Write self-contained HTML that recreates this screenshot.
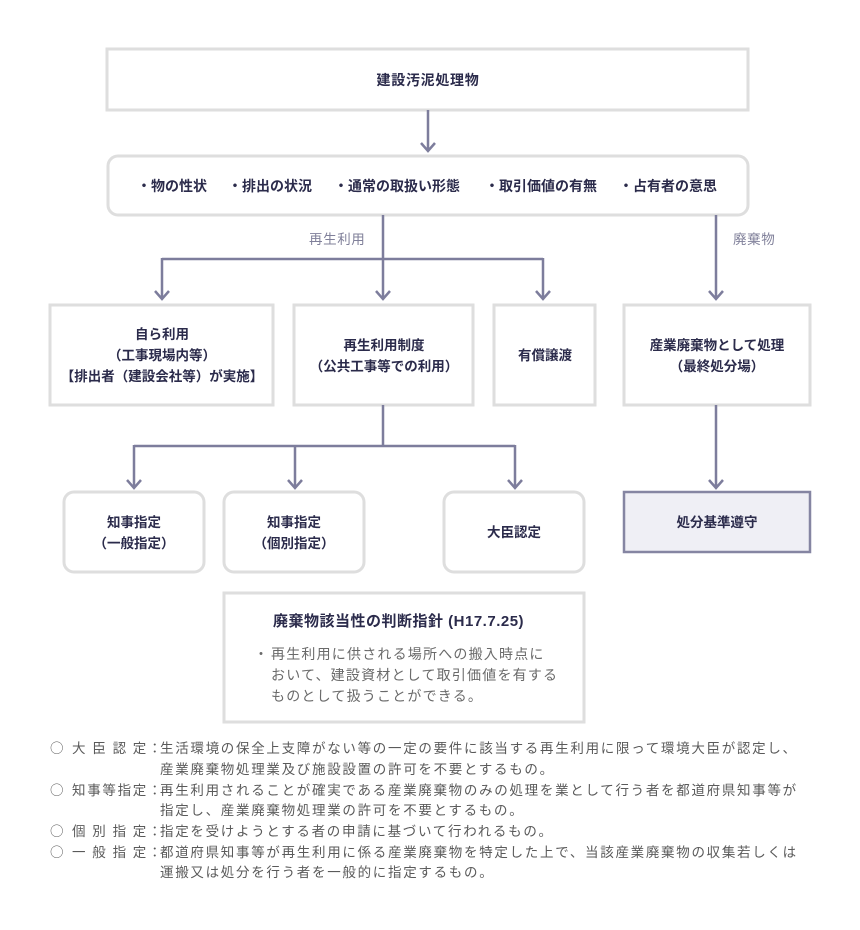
<!DOCTYPE html>
<html><head><meta charset="utf-8"><style>
html,body{margin:0;padding:0;background:#fff;}
svg{display:block;}
.b{font-family:"Liberation Sans","Noto Sans CJK JP",sans-serif;font-weight:bold;fill:#2b2b4b;font-size:14px;}
.lbl{font-family:"Liberation Sans","Noto Sans CJK JP",sans-serif;fill:#80809a;font-size:13.5px;letter-spacing:0.6px;}
.n{font-family:"Liberation Sans","Noto Sans CJK JP",sans-serif;fill:#5a5a5a;font-size:13.5px;letter-spacing:1.7px;}
.c{font-family:"Noto Sans CJK JP",sans-serif;fill:#5a5a5a;font-size:13.5px;}
.j{font-family:"Liberation Sans","Noto Sans CJK JP",sans-serif;fill:#6a6a6a;font-size:14px;letter-spacing:1.2px;}
</style></head><body>
<svg width="860" height="930" viewBox="0 0 860 930" xmlns="http://www.w3.org/2000/svg">
<g fill="#fff" stroke="#dedede" stroke-width="3">
<rect x="107" y="49" width="641" height="61"/>
<rect x="108" y="156" width="640" height="59" rx="10"/>
<rect x="50" y="305" width="223" height="100"/>
<rect x="294" y="305" width="179" height="100"/>
<rect x="494" y="305" width="101" height="100"/>
<rect x="624" y="305" width="186" height="100"/>
<rect x="64" y="492" width="140" height="80" rx="10"/>
<rect x="224" y="492" width="140" height="80" rx="10"/>
<rect x="444" y="492" width="140" height="80" rx="10"/>
<rect x="224" y="593" width="360" height="129"/>
</g>
<rect x="624" y="492" width="186" height="60" fill="#efeff5" stroke="#8585a2" stroke-width="2.5"/>
<g fill="none" stroke="#7d7d9c" stroke-width="2.5">
<path d="M428 110V151M421 143L428 151L435 143"/>
<path d="M383 215V299M162 259H543M162 258V299M543 258V299"/>
<path d="M155 291L162 299L169 291M376 291L383 299L390 291M536 291L543 299L550 291"/>
<path d="M716 215V299M709 291L716 299L723 291"/>
<path d="M383 405V446M134 446H515M134 445V488M295 446V488M515 445V488"/>
<path d="M127 480L134 488L141 480M288 480L295 488L302 480M508 480L515 488L522 480"/>
<path d="M716 405V488M709 480L716 488L723 480"/>
</g>
<text class="b" x="428" y="85" text-anchor="middle" style="letter-spacing:0.7px">建設汚泥処理物</text>
<text class="b" x="137" y="191">・物の性状</text>
<text class="b" x="228" y="191">・排出の状況</text>
<text class="b" x="334" y="191">・通常の取扱い形態</text>
<text class="b" x="485" y="191">・取引価値の有無</text>
<text class="b" x="619" y="191">・占有者の意思</text>
<text class="lbl" x="309" y="244">再生利用</text>
<text class="lbl" x="733" y="244">廃棄物</text>
<g class="b" text-anchor="middle" style="font-size:13.5px">
<text x="162" y="339">自ら利用</text>
<text x="162" y="360">（工事現場内等）</text>
<text x="162" y="381">【排出者（建設会社等）が実施】</text>
<text x="384" y="350">再生利用制度</text>
<text x="384" y="371">（公共工事等での利用）</text>
<text x="545" y="360">有償譲渡</text>
<text x="717" y="350">産業廃棄物として処理</text>
<text x="717" y="371">（最終処分場）</text>
<text x="134" y="527">知事指定</text>
<text x="134" y="548">（一般指定）</text>
<text x="294" y="527">知事指定</text>
<text x="294" y="548">（個別指定）</text>
<text x="514" y="537">大臣認定</text>
<text x="717" y="527">処分基準遵守</text>
</g>
<text class="b" x="273" y="626" style="font-size:15px;letter-spacing:0.5px">廃棄物該当性の判断指針 (H17.7.25)</text>
<text class="j" x="254" y="659">・</text>
<text class="j" x="271" y="659">再生利用に供される場所への搬入時点に</text>
<text class="j" x="271" y="680">おいて、建設資材として取引価値を有する</text>
<text class="j" x="271" y="701">ものとして扱うことができる。</text>
<g>
<text class="c" x="50" y="753">○</text>
<text class="c" x="50" y="795">○</text>
<text class="c" x="50" y="836">○</text>
<text class="c" x="50" y="857">○</text>
</g>
<g class="n">
<text x="72 92.3 112.6 132.8" y="753">大臣認定</text>
<text x="148" y="753">：</text>
<text x="160" y="753">生活環境の保全上支障がない等の一定の要件に該当する再生利用に限って環境大臣が認定し、</text>
<text x="160" y="774">産業廃棄物処理業及び施設設置の許可を不要とするもの。</text>
<text x="72" y="795">知事等指定</text>
<text x="148" y="795">：</text>
<text x="160" y="795">再生利用されることが確実である産業廃棄物のみの処理を業として行う者を都道府県知事等が</text>
<text x="160" y="815">指定し、産業廃棄物処理業の許可を不要とするもの。</text>
<text x="72 92.3 112.6 132.8" y="836">個別指定</text>
<text x="148" y="836">：</text>
<text x="160" y="836">指定を受けようとする者の申請に基づいて行われるもの。</text>
<text x="72 92.3 112.6 132.8" y="857">一般指定</text>
<text x="148" y="857">：</text>
<text x="160" y="857">都道府県知事等が再生利用に係る産業廃棄物を特定した上で、当該産業廃棄物の収集若しくは</text>
<text x="160" y="877">運搬又は処分を行う者を一般的に指定するもの。</text>
</g>
</svg>
</body></html>
